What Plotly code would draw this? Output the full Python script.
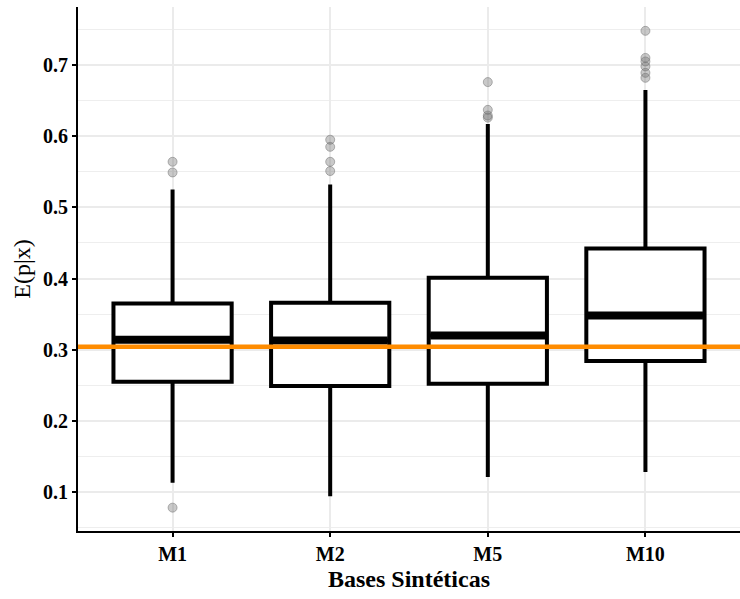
import plotly.graph_objects as go

# Summary statistics of E(p|x) for each synthetic base
categories = ["M1", "M2", "M5", "M10"]
q1 = [0.255, 0.249, 0.252, 0.284]
median = [0.314, 0.313, 0.320, 0.348]
q3 = [0.365, 0.366, 0.401, 0.442]
lower_whisker = [0.113, 0.094, 0.121, 0.128]
upper_whisker = [0.525, 0.532, 0.617, 0.665]

# Points beyond the whiskers, per base
outliers = {
    "M1": [0.078, 0.549, 0.564],
    "M2": [0.551, 0.564, 0.585, 0.595],
    "M5": [0.626, 0.629, 0.637, 0.676],
    "M10": [0.682, 0.689, 0.698, 0.705, 0.710, 0.748],
}

reference_value = 0.304
y_ticks = [0.1, 0.2, 0.3, 0.4, 0.5, 0.6, 0.7]

positions = list(range(len(categories)))
box_width = 0.75

fig = go.Figure()

fig.add_trace(go.Box(
    x=positions,
    q1=q1,
    median=median,
    q3=q3,
    lowerfence=lower_whisker,
    upperfence=upper_whisker,
    width=box_width,
    whiskerwidth=0,
    boxpoints=False,
    fillcolor="white",
    line=dict(color="black", width=4),
    showlegend=False,
    hoverinfo="skip",
))

out_x, out_y = [], []
for pos, cat in zip(positions, categories):
    for v in outliers[cat]:
        out_x.append(pos)
        out_y.append(v)

fig.add_trace(go.Scatter(
    x=out_x,
    y=out_y,
    mode="markers",
    marker=dict(size=9, color="rgba(120,120,120,0.4)",
                line=dict(color="rgba(100,100,100,0.45)", width=1)),
    showlegend=False,
    hoverinfo="skip",
))

# Thick median bars
shapes = []
for pos, m in zip(positions, median):
    shapes.append(dict(
        type="line", xref="x", yref="y",
        x0=pos - box_width / 2 + 0.01, x1=pos + box_width / 2 - 0.01,
        y0=m, y1=m,
        line=dict(color="black", width=8),
        layer="above",
    ))

# Reference level
shapes.append(dict(
    type="line", xref="paper", yref="y",
    x0=0, x1=1, y0=reference_value, y1=reference_value,
    line=dict(color="#FF8C00", width=4.5),
    layer="above",
))

serif = "Liberation Serif"

fig.update_layout(
    width=740,
    height=599,
    margin=dict(l=78, r=0, t=7, b=68),
    plot_bgcolor="white",
    paper_bgcolor="white",
    shapes=shapes,
    font=dict(family=serif, color="black"),
    xaxis=dict(
        range=[-0.6, 3.6],
        tickmode="array",
        tickvals=positions,
        ticktext=categories,
        showgrid=True,
        gridcolor="#EBEBEB",
        gridwidth=1.5,
        zeroline=False,
        showline=True,
        linecolor="black",
        linewidth=2,
        ticks="outside",
        ticklen=4,
        tickwidth=1.5,
        tickcolor="black",
        tickfont=dict(family=serif, size=20, weight="bold", color="black"),
        title=dict(text="Bases Sintéticas",
                   font=dict(family=serif, size=24, weight="bold", color="black"),
                   standoff=6),
    ),
    yaxis=dict(
        range=[0.0452, 0.7815],
        tickmode="array",
        tickvals=y_ticks,
        ticktext=[f"{v:.1f}" for v in y_ticks],
        showgrid=True,
        gridcolor="#EBEBEB",
        gridwidth=1.5,
        minor=dict(dtick=0.05, tick0=0.05, showgrid=True,
                   gridcolor="#EEEEEE", gridwidth=1, ticks=""),
        zeroline=False,
        showline=True,
        linecolor="black",
        linewidth=2,
        ticks="outside",
        ticklen=4,
        tickwidth=1.5,
        tickcolor="black",
        tickfont=dict(family=serif, size=20, weight="bold", color="black"),
        title=dict(text="E(p|x)",
                   font=dict(family=serif, size=24, color="black"),
                   standoff=6),
    ),
)

fig.write_html("out.html")
